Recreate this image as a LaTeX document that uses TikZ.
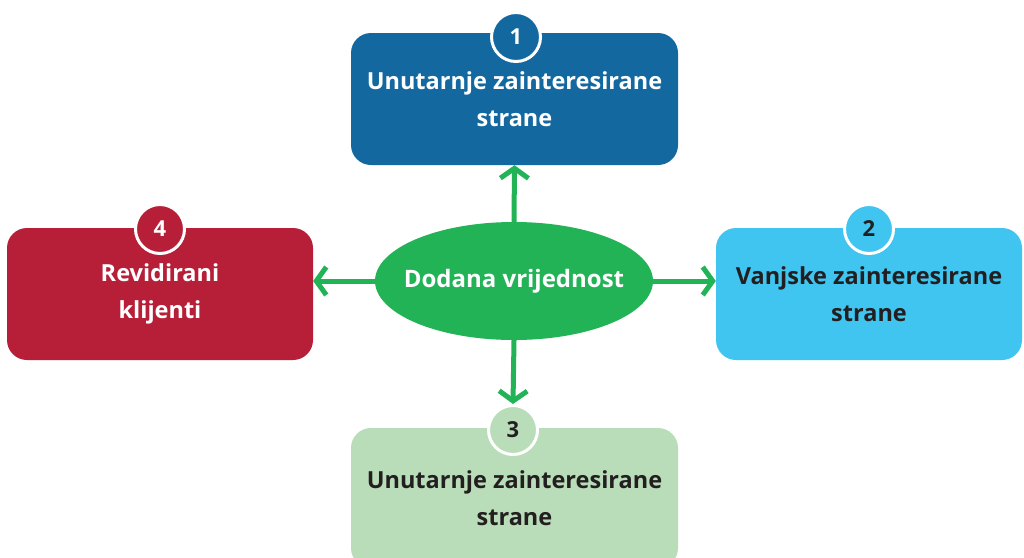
\documentclass[tikz,border=0pt]{standalone}
\usepackage{fontspec}
\setmainfont{Open Sans}
\usetikzlibrary{arrows.meta,shapes.geometric}
\definecolor{cblue}{HTML}{1468A0}
\definecolor{clight}{HTML}{3FC5EF}
\definecolor{cpale}{HTML}{B8DDB8}
\definecolor{cred}{HTML}{B71F38}
\definecolor{cgreen}{HTML}{22B357}
\definecolor{cdark}{HTML}{231F20}
\begin{document}
\begin{tikzpicture}[x=1pt,y=-1pt,
  card/.style={rounded corners=20pt, minimum width=327pt, minimum height=132pt, inner sep=0pt, align=center,
    font=\fontsize{23.5}{37}\selectfont\bfseries},
  badge/.style={circle, draw=white, line width=3pt, minimum size=49pt, inner sep=0pt,
    font=\fontsize{22}{22}\selectfont\bfseries},
  link/.style={draw=cgreen, line width=5pt, -{Straight Barb[length=10pt,width=28pt,line join=miter]}}]
\clip (0,0) rectangle (1024,557);
\fill[white] (0,0) rectangle (1024,557);
\node[card, fill=cblue, text=white] (b1) at (514.5,99) {Unutarnje zainteresirane\\strane};
\node[card, fill=clight, text=cdark, minimum width=306pt] (b2) at (869,294) {Vanjske zainteresirane\\strane};
\node[card, fill=cpale, text=cdark, minimum height=140pt] (b3) at (514.5,498) {Unutarnje zainteresirane\\strane};
\node[card, fill=cred, text=white, minimum width=306pt] (b4) at (160,294) {Revidirani\\klijenti};
\node[ellipse, fill=cgreen, text=white, minimum width=278pt, minimum height=118pt, inner xsep=-14pt, inner ysep=0pt,
  font=\fontsize{24}{28}\selectfont\bfseries] (e) at (514,281) {Dodana vrijednost};
\node[badge, fill=cblue, text=white] (n1) at (516,37) {1};
\node[badge, fill=clight, text=cdark] (n2) at (869,229) {2};
\node[badge, fill=cpale, text=cdark] (n3) at (513,430) {3};
\node[badge, fill=cred, text=white] (n4) at (160,229) {4};
\draw[link] (e.north) -- (b1.south);
\draw[link] (e.west) -- (e.west -| b4.east);
\draw[link] (e.east) -- (e.east -| b2.west);
\draw[link] (e.south) -- (n3.north);
\end{tikzpicture}
\end{document}
